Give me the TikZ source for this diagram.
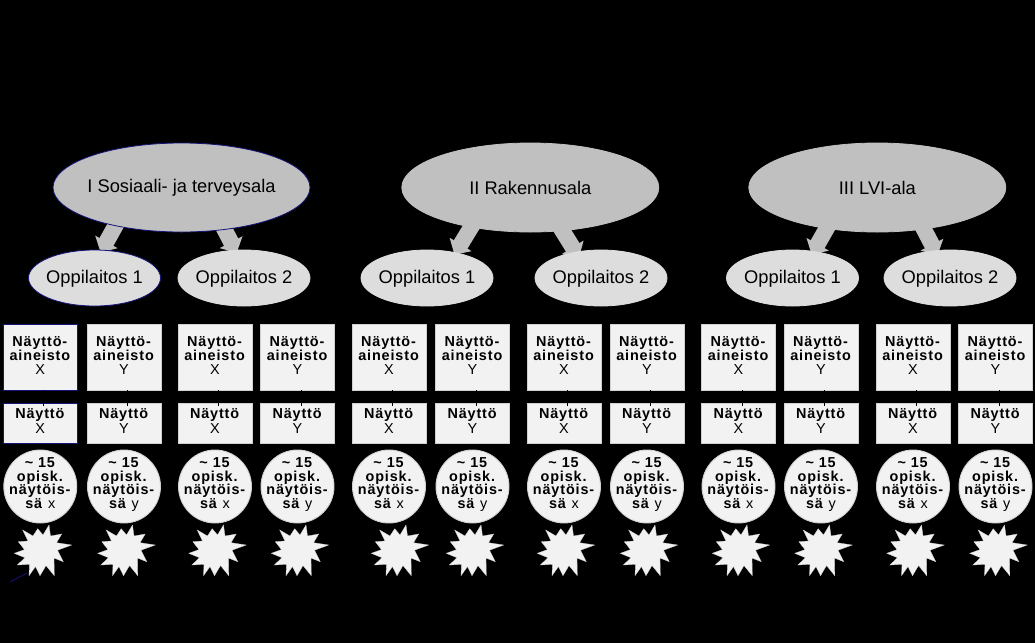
\documentclass[tikz,border=0pt]{standalone}
\usepackage{fontspec}
\setmainfont{Liberation Sans}
\newfontfamily\spacedsans[LetterSpace=6]{Liberation Sans}
\usetikzlibrary{shapes.geometric,arrows.meta,calc,backgrounds}
\definecolor{bigfill}{HTML}{C0C0C0}
\definecolor{smallfill}{HTML}{DDDDDD}
\definecolor{paper}{HTML}{F2F2F2}
\definecolor{edgegray}{HTML}{D0D0D0}
\definecolor{edgeblue}{HTML}{14147A}
\newcommand{\dropit}[1]{\rule[-#1pt]{0pt}{#1pt}}
\newcommand{\tightlines}{\lineskiplimit -20pt\relax}
\tikzset{
  bigell/.style={ellipse,fill=bigfill,draw=bigfill,line width=.8pt,minimum width=257pt,minimum height=89pt,inner xsep=-30pt,inner ysep=0pt,font=\fontsize{18.3}{20}\selectfont},
  smallell/.style={ellipse,fill=smallfill,draw=smallfill,line width=.8pt,minimum width=132pt,minimum height=56pt,inner xsep=-30pt,inner ysep=0pt,text height=14.5pt,font=\fontsize{18.3}{20}\selectfont},
  upbox/.style={rectangle,fill=paper,line width=.9pt,minimum width=74pt,minimum height=66pt,inner sep=0pt,align=center,font=\spacedsans\fontsize{14.4}{14}\selectfont\tightlines},
  lowbox/.style={rectangle,fill=paper,line width=.9pt,minimum width=74pt,minimum height=40pt,inner sep=0pt,align=center,font=\spacedsans\fontsize{14.4}{15}\selectfont\tightlines},
  disc/.style={circle,fill=paper,draw=edgegray,line width=.9pt,minimum size=73pt,inner sep=0pt},
  disctext/.style={inner sep=0pt,align=center,font=\spacedsans\fontsize{14.4}{13.5}\selectfont\tightlines},
  blockarrow/.style={draw=bigfill,line width=16pt,-{Triangle[width=25pt,length=12pt]}},
  tickline/.style={draw=black,line width=1pt},
  strayline/.style={draw=edgeblue,line width=.8pt},
  burst/.pic={
    \path[fill=paper,draw=edgegray,line width=.3pt,line join=miter]
      (-17.3,-22)--(-7,-16)--(-2.3,-23.3)--(3,-17)--(9,-27)--(10.5,-16)--(21.7,-18)--(16.5,-9.3)
      --(31.7,-7)--(17.5,-1.8)--(23.3,9.7)--(14,6)--(14.3,23.7)--(6,13.5)--(0,23.7)--(-4.5,14.5)
      --(-11,23.7)--(-10.5,12.3)--(-22.7,13)--(-15,5.7)--(-25.7,1.3)--(-15.5,-2.4)--(-21.7,-10.3)--(-12,-11)--cycle;
  }
}
\begin{document}
\begin{tikzpicture}[x=1pt,y=-1pt]
\useasboundingbox (0,0) rectangle (1035,643);
% sector ellipses
\node[bigell,draw=edgeblue] (E1) at (181.5,187.5) {I Sosiaali- ja terveysala};
\node[bigell] (E2) at (530.3,187.5) {II Rakennusala};
\node[bigell] (E3) at (877.3,187.5) {III LVI-ala};
% schools
\node[smallell,draw=edgeblue] (O11) at (94.5,278) {Oppilaitos 1};
\node[smallell] (O12) at (244,278) {Oppilaitos 2};
\node[smallell] (O21) at (427,278) {Oppilaitos 1};
\node[smallell] (O22) at (601,278) {Oppilaitos 2};
\node[smallell] (O31) at (792.5,278) {Oppilaitos 1};
\node[smallell] (O32) at (950,278) {Oppilaitos 2};
% columns
\foreach \n/\x/\sx/\L/\l/\e in {
  1/40.3/40/X/x/edgeblue, 2/124/123.5/Y/y/edgegray, 3/215/214.5/X/x/edgegray, 4/297.5/297/Y/y/edgegray,
  5/389/397/X/x/edgegray, 6/472.5/472/Y/y/edgegray, 7/564/563/X/x/edgegray, 8/647/646/Y/y/edgegray,
  9/738.5/738/X/x/edgegray, 10/821/820.5/Y/y/edgegray, 11/913/912.5/X/x/edgegray, 12/995.5/995.5/Y/y/edgegray}
{
  \node[upbox,draw=\e] (A\n) at (\x,357) {\textbf{Näyttö-}\\\textbf{aineisto}\\\L\dropit{2}};
  \node[lowbox,draw=\e] (B\n) at (\x,423) {\textbf{Näyttö}\\\L\dropit{3}};
  \node[disc] (C\n) at (\x,486.5) {};
  \node[disctext] (T\n) at ($(C\n)+(0,-1.5)$) {\textbf{\char126\ 15}\\\textbf{opisk.}\\\textbf{näytöis-}\\\textbf{sä} \l\dropit{3.5}};
  \pic (D\n) at (\sx,552) {burst};
  \draw[tickline] ($(A\n.south)+(3.5,0)$) -- ($(B\n.north)+(3.5,3)$);
}
% stray line at the lower left
\coordinate (stray1) at (10,582);
\coordinate (stray2) at (27,573);
\draw[strayline] (stray1) -- (stray2);
% background and block arrows
\begin{pgfonlayer}{background}
\fill[black] (0,0) rectangle (1035,643);
\draw[blockarrow] ($(E1)+(-59.5,26.5)$) -- ($(O11)+(6.1,-25.6)$);
\draw[blockarrow] ($(E1)+(36.5,29.5)$) -- ($(O12)+(-7.3,-25.2)$);
\draw[blockarrow] ($(E2)+(-49.3,23.5)$) -- ($(O21)+(27.4,-23.3)$);
\draw[blockarrow] ($(E2)+(21.7,26.5)$) -- ($(O22)+(-22,-20.5)$);
\draw[blockarrow] ($(E3)+(-41.3,24.5)$) -- ($(O31)+(19.2,-23.3)$);
\draw[blockarrow] ($(E3)+(39.7,28.5)$) -- ($(O32)+(-12.5,-22.7)$);
\end{pgfonlayer}
\end{tikzpicture}
\end{document}
